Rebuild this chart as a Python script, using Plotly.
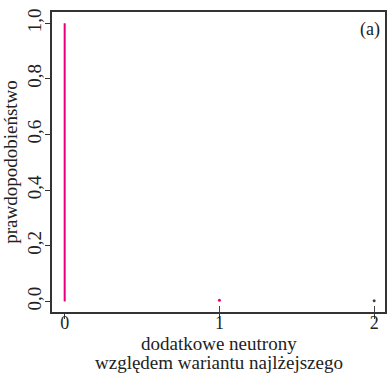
import plotly.graph_objects as go

# data
neutrons = [0, 1, 2]
probability = [1.0, 0.004, 0.002]
stem_colors = ["#e6007e", "#e6007e", "#444444"]
x_ticks = [0, 1, 2]
y_ticks = [0.0, 0.2, 0.4, 0.6, 0.8, 1.0]
x_title_lines = ["dodatkowe neutrony", "względem wariantu najlżejszego"]
y_title = "prawdopodobieństwo"

FONT = "Liberation Serif"
W, H = 388, 374
L, R, T, B = 52, 3, 12, 62
ph = H - T - B

fig = go.Figure()
for xv, pv, c in zip(neutrons, probability, stem_colors):
    if pv > 0.05:
        fig.add_trace(go.Scatter(x=[xv, xv], y=[0, pv], mode="lines",
                                 line=dict(color=c, width=2), showlegend=False,
                                 hoverinfo="skip"))
    else:
        fig.add_trace(go.Scatter(x=[xv], y=[pv], mode="markers",
                                 marker=dict(color=c, size=3, line=dict(width=0)),
                                 showlegend=False, hoverinfo="skip"))

# inside ticks at 1 and 2 (as in reference)
fig.add_trace(go.Scatter(x=[1, 2], y=[None, None], xaxis="x2", showlegend=False))

ann = [dict(text="(a)", xref="paper", yref="paper", x=0.99, y=0.985,
            xanchor="right", yanchor="top", showarrow=False, font=dict(size=18))]
for txt, ypx in zip(x_title_lines, [343.5, 362]):
    ann.append(dict(text=txt, xref="paper", yref="paper", x=0.5,
                    y=(H - B - ypx) / ph, xanchor="center", yanchor="middle",
                    showarrow=False, font=dict(size=19)))

fig.update_layout(
    width=W, height=H,
    margin=dict(l=L, r=R, t=T, b=B),
    paper_bgcolor="white", plot_bgcolor="white",
    separators=",.",
    font=dict(family=FONT, size=19, color="#222"),
    xaxis=dict(range=[-0.082, 2.07], tickvals=x_ticks, ticks="outside", ticklen=5,
               tickcolor="#333", showline=True, linecolor="#333", linewidth=1.5,
               mirror=True, showgrid=False, zeroline=False, automargin=False,
               ticklabelstandoff=-11, tickfont=dict(size=18)),
    xaxis2=dict(range=[-0.082, 2.07], tickvals=[1, 2], ticks="inside", ticklen=6,
                tickcolor="#444", overlaying="x", side="bottom", showticklabels=False,
                showgrid=False, zeroline=False, showline=False),
    yaxis=dict(range=[-0.038, 1.04], tickvals=y_ticks, tickformat=".1f",
               ticks="outside", ticklen=5, tickcolor="#333", tickangle=-90,
               showline=True, linecolor="#333", linewidth=1.5, mirror=True,
               showgrid=False, zeroline=False, tickfont=dict(size=19),
               automargin=False, ticklabelstandoff=-3,
               title=dict(text=y_title, standoff=2, font=dict(size=19))),
    annotations=ann,
)

fig.write_html("out.html", config={"displayModeBar": False},
               post_script="document.body.style.margin='0';")
